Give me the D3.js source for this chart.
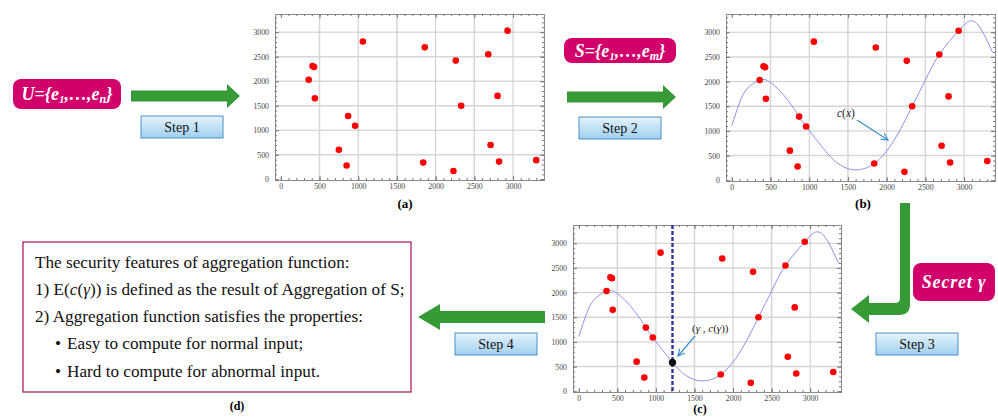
<!DOCTYPE html>
<html><head><meta charset="utf-8">
<script src="https://cdn.jsdelivr.net/npm/d3@7"></script>
<style>body{margin:0;background:#fff}svg{display:block}
svg text{font-family:"Liberation Serif","Times New Roman",Times,"DejaVu Serif","Noto Serif",serif;}</style>
</head><body><div id="chart"></div>
<script>
// ---- data ----
const pointX = [360,410,430,440,750,850,870,960,1060,1840,1860,2230,2260,2330,2680,2710,2800,2820,2930,3300];
const pointY = [2030,2310,2290,1650,600,280,1290,1090,2810,340,2690,170,2420,1500,2550,700,1700,360,3030,390];
const curveX = [0,100,200,360,500,700,870,960,1215,1400,1590,1840,2100,2330,2500,2680,2930,3070,3200,3370];
const curveY = [1110,1570,1860,2030,1980,1670,1290,1090,584,310,210,340,820,1500,2030,2550,3030,3225,3110,2590];
const gammaX = 1215, gammaY = 584;
const xTicks = [0,500,1000,1500,2000,2500,3000];
const yTicks = [0,500,1000,1500,2000,2500,3000];
const xMinor = d3.range(0,3400,100);
const yMinor = d3.range(0,3400,100);
const textLines = ["The security features of aggregation function:",
  "2) Aggregation function satisfies the properties:",
  "Easy to compute for normal input;",
  "Hard to compute for abnormal input."];

const W=998,H=417;
const svg=d3.select("#chart").append("svg").attr("width",W).attr("height",H);
svg.append("rect").attr("width",W).attr("height",H).attr("fill","#fff");
const defs=svg.append("defs");
const grad=defs.append("linearGradient").attr("id","stepGrad").attr("x1",0).attr("y1",0).attr("x2",0).attr("y2",1);
grad.append("stop").attr("offset","0%").attr("stop-color","#e6f3fc");
grad.append("stop").attr("offset","100%").attr("stop-color","#9fd0ef");
defs.append("marker").attr("id","openArrow").attr("viewBox","0 0 10 10").attr("refX",9).attr("refY",5)
  .attr("markerWidth",7).attr("markerHeight",7).attr("orient","auto")
  .append("path").attr("d","M1,1 L9,5 L1,9").attr("fill","none").attr("stroke","#3a8fc6").attr("stroke-width",1.4);

const serif='"Liberation Serif","Times New Roman",Times,"DejaVu Serif",serif';
const MAG="#d1006b", GREEN="#369a36";

function panel(x0,y0,w,h,opts){
  const g=svg.append("g").attr("transform",`translate(${x0},${y0})`);
  const x=d3.scaleLinear().domain([-75,3400]).range([0,w]);
  const y=d3.scaleLinear().domain([-15,3370]).range([h,0]);
  // grid
  g.append("g").selectAll("line").data(xTicks.slice(1)).join("line")
    .attr("x1",d=>x(d)).attr("x2",d=>x(d)).attr("y1",0).attr("y2",h)
    .attr("stroke",(d,i)=>i%2?"#c4c4c4":"#d6d6d6").attr("stroke-width",(d,i)=>i%2?0.9:1.5);
  g.append("g").selectAll("line").data(yTicks.slice(1)).join("line")
    .attr("y1",d=>y(d)).attr("y2",d=>y(d)).attr("x1",0).attr("x2",w)
    .attr("stroke",(d,i)=>i%2?"#c4c4c4":"#d6d6d6").attr("stroke-width",(d,i)=>i%2?0.9:1.5);
  // axes
  const styleAxis=sel=>{sel.select(".domain").attr("stroke","#8a8a8a");sel.selectAll(".tick line").attr("stroke","#777");
    sel.selectAll("text").attr("font-family",serif).attr("font-size",7.8).attr("fill","#444");};
  const fmt=d3.format("d");
  g.append("g").attr("transform",`translate(0,${h})`).call(d3.axisBottom(x).tickValues(xTicks).tickFormat(fmt).tickSize(-4).tickPadding(3).tickSizeOuter(0)).call(styleAxis);
  g.append("g").attr("transform",`translate(0,${h})`).call(d3.axisBottom(x).tickValues(xMinor).tickSize(-2).tickFormat("").tickSizeOuter(0)).call(styleAxis);
  g.append("g").call(d3.axisTop(x).tickValues(xTicks).tickSize(-4).tickFormat("").tickSizeOuter(0)).call(styleAxis);
  g.append("g").call(d3.axisTop(x).tickValues(xMinor).tickSize(-2).tickFormat("").tickSizeOuter(0)).call(styleAxis);
  g.append("g").call(d3.axisLeft(y).tickValues(yTicks).tickFormat(fmt).tickSize(-4).tickPadding(6).tickSizeOuter(0)).call(styleAxis);
  g.append("g").call(d3.axisLeft(y).tickValues(yMinor).tickSize(-2).tickFormat("").tickSizeOuter(0)).call(styleAxis);
  g.append("g").attr("transform",`translate(${w},0)`).call(d3.axisRight(y).tickValues(yTicks).tickSize(-4).tickFormat("").tickSizeOuter(0)).call(styleAxis);
  g.append("g").attr("transform",`translate(${w},0)`).call(d3.axisRight(y).tickValues(yMinor).tickSize(-2).tickFormat("").tickSizeOuter(0)).call(styleAxis);
  if(opts.curve){
    const pts=curveX.map((d,i)=>[d,curveY[i]]);
    g.append("path").datum(pts).attr("fill","none").attr("stroke","#8f8ff0").attr("stroke-width",1)
      .attr("d",d3.line().x(d=>x(d[0])).y(d=>y(d[1])).curve(d3.curveNatural));
  }
  if(opts.gamma){
    g.append("line").attr("x1",x(gammaX)).attr("x2",x(gammaX)).attr("y1",0).attr("y2",h)
      .attr("stroke","#34349a").attr("stroke-width",2.4).attr("stroke-dasharray","4,2");
  }
  g.append("g").selectAll("circle").data(pointX.map((d,i)=>[d,pointY[i]])).join("circle")
    .attr("cx",d=>x(d[0])).attr("cy",d=>y(d[1])).attr("r",3.3).attr("fill","#f00");
  if(opts.gamma){
    g.append("circle").attr("cx",x(gammaX)).attr("cy",y(gammaY)).attr("r",3.2).attr("fill","#111").attr("stroke","#000");
  }
  svg.append("text").attr("x",opts.lx).attr("y",opts.ly).attr("text-anchor","middle").attr("font-family",serif)
    .attr("font-weight","bold").attr("font-size",opts.fs||13).text(opts.label);
  return {g,x,y};
}

panel(275,14,269,166,{label:"(a)",lx:405,ly:208});
panel(726,14,269,167,{curve:true,label:"(b)",lx:863,ly:208});
panel(573,225,268,167,{curve:true,gamma:true,label:"(c)",lx:700,ly:413,fs:12});

// annotations
const cx=svg.append("text").attr("x",837).attr("y",117).attr("font-family",serif).attr("font-size",11.5).attr("fill","#222");
cx.append("tspan").attr("font-style","italic").text("c");
cx.append("tspan").text("(");
cx.append("tspan").attr("font-style","italic").text("x");
cx.append("tspan").text(")");
svg.append("line").attr("x1",857).attr("y1",120).attr("x2",888).attr("y2",140).attr("stroke","#3a8fc6").attr("stroke-width",1.2).attr("marker-end","url(#openArrow)");
const gc=svg.append("text").attr("x",692).attr("y",332).attr("font-family",serif).attr("font-size",11).attr("fill","#222");
gc.append("tspan").text("(");
gc.append("tspan").attr("font-style","italic").text("γ");
gc.append("tspan").text(" , ");
gc.append("tspan").attr("font-style","italic").text("c");
gc.append("tspan").text("(");
gc.append("tspan").attr("font-style","italic").text("γ");
gc.append("tspan").text("))");
svg.append("line").attr("x1",695).attr("y1",336).attr("x2",678).attr("y2",356).attr("stroke","#3a8fc6").attr("stroke-width",1.2).attr("marker-end","url(#openArrow)");

// magenta label boxes
function magBox(x,y,w,h,fs,build){
  svg.append("rect").attr("x",x).attr("y",y).attr("width",w).attr("height",h).attr("rx",8).attr("fill",MAG);
  const t=svg.append("text").attr("x",x+w/2).attr("y",y+h/2+6).attr("text-anchor","middle").attr("font-family",serif)
    .attr("font-style","italic").attr("font-weight","bold").attr("font-size",fs).attr("fill","#fff");
  build(t);
}
magBox(13,79,108,30,18,t=>{t.append("tspan").text("U={e");t.append("tspan").attr("font-size",11).attr("dy",3).text("1");
  t.append("tspan").attr("dy",-3).text(",…,e");t.append("tspan").attr("font-size",12).attr("dy",3).text("n");t.append("tspan").attr("dy",-3).text("}");});
magBox(564,38,112,25,18,t=>{t.append("tspan").text("S={e");t.append("tspan").attr("font-size",11).attr("dy",3).text("1");
  t.append("tspan").attr("dy",-3).text(",…,e");t.append("tspan").attr("font-size",12).attr("dy",3).text("m");t.append("tspan").attr("dy",-3).text("}");});
magBox(913,263,82,38,18,t=>{t.attr("letter-spacing",0.8).text("Secret γ");});

// green arrows
function rightArrow(x1,x2,cy){
  svg.append("path").attr("fill",GREEN).attr("d",
    `M${x1},${cy-5.5} L${x2-13},${cy-5.5} L${x2-13},${cy-12} L${x2},${cy} L${x2-13},${cy+12} L${x2-13},${cy+5.5} L${x1},${cy+5.5} Z`);
}
rightArrow(131,240,96);
rightArrow(567,676,97);
// left arrow step 4
svg.append("path").attr("fill",GREEN).attr("d","M545,311 L440,311 L440,304 L418,317 L440,330 L440,323 L545,323 Z");
// L-shaped arrow step 3
svg.append("path").attr("fill",GREEN).attr("d",
  "M900,203 L910,203 L910,304 Q910,315 899,315 L869,315 L869,323 L851,309 L869,295 L869,303 L895,303 Q900,303 900,298 Z");

// step boxes
function stepBox(x,y,label){
  svg.append("rect").attr("x",x).attr("y",y).attr("width",82).attr("height",22).attr("fill","url(#stepGrad)")
    .attr("stroke","#4b8fc6").attr("stroke-width",1);
  svg.append("text").attr("x",x+41).attr("y",y+15.5).attr("text-anchor","middle").attr("font-family",serif)
    .attr("font-size",14).attr("fill","#111").text(label);
}
stepBox(141,116,"Step 1");
stepBox(579,117,"Step 2");
stepBox(876,333,"Step 3");
stepBox(455,333,"Step 4");

// box (d)
svg.append("rect").attr("x",23).attr("y",242).attr("width",388).attr("height",150).attr("fill","#fff")
  .attr("stroke","#b8306e").attr("stroke-width",1.4);
const tf=(y,x)=>svg.append("text").attr("x",x).attr("y",y).attr("font-family",serif).attr("font-size",17.2).attr("fill","#111");
tf(268,35).text(textLines[0]);
const l2=tf(295,35);
l2.append("tspan").text("1) E(");l2.append("tspan").attr("font-style","italic").text("c");l2.append("tspan").text("(");
l2.append("tspan").attr("font-style","italic").text("γ");l2.append("tspan").text(")) is defined as the result of Aggregation of S;");
tf(322,35).text(textLines[1]);
tf(349,55).text("•");tf(349,67).text(textLines[2]);
tf(377,55).text("•");tf(377,67).text(textLines[3]);
svg.append("text").attr("x",237).attr("y",410).attr("text-anchor","middle").attr("font-family",serif)
  .attr("font-weight","bold").attr("font-size",12).text("(d)");
</script></body></html>
